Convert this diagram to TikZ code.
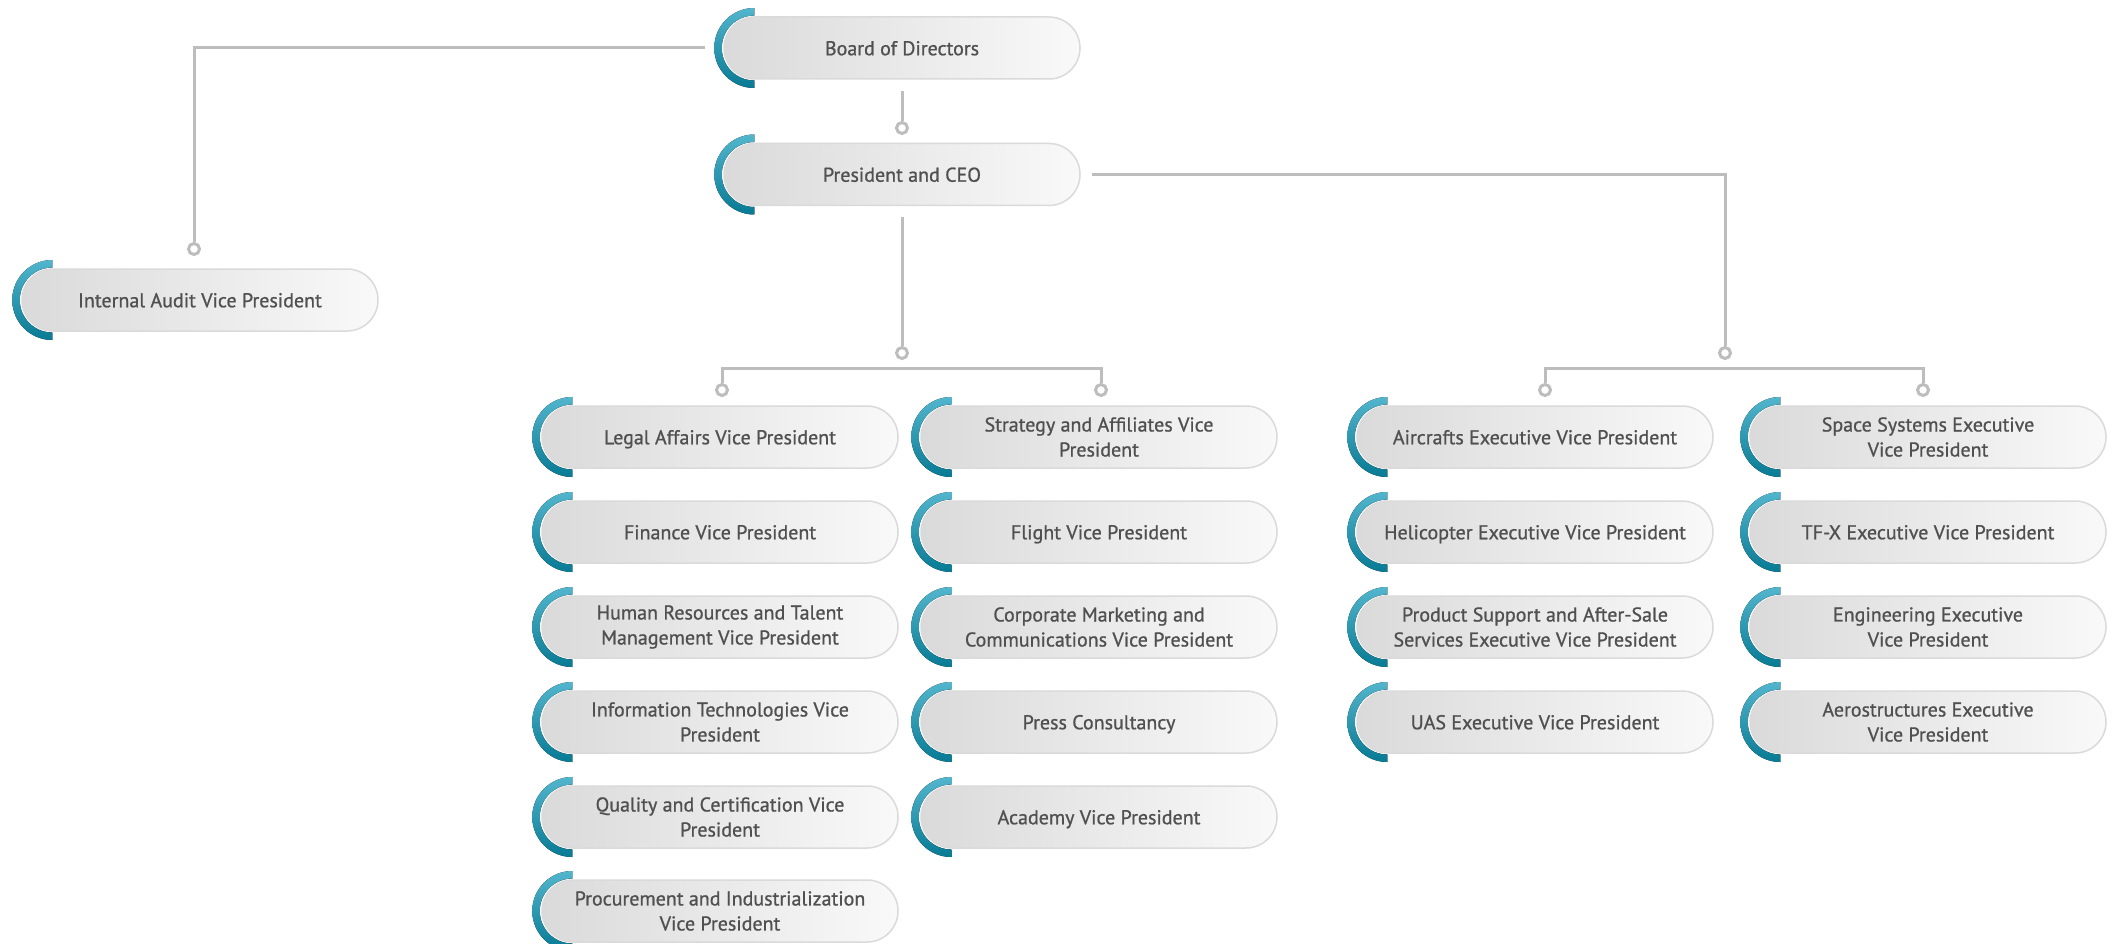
\documentclass[tikz,border=0pt]{standalone}
\usepackage{fontspec}
\setmainfont[FakeBold=0.9]{PT Sans}
\usetikzlibrary{shapes.misc,calc}
\definecolor{boxL}{HTML}{DADADA}
\definecolor{boxR}{HTML}{F9F9F9}
\definecolor{boxline}{HTML}{DADADA}
\definecolor{txt}{HTML}{505050}
\definecolor{wirec}{HTML}{BDBDBD}
\definecolor{tealT}{HTML}{52B6CD}
\definecolor{tealB}{HTML}{087A94}
\tikzset{
 post/.style={rounded rectangle,minimum width=356pt,minimum height=62pt,inner sep=0pt,
  left color=boxL,right color=boxR,draw=boxline,line width=1.5pt,
  preaction={draw=white,line width=4pt},text=txt,font=\fontsize{20}{25}\selectfont,align=center},
 lone/.style={text height=14.5pt,text depth=0pt},
 knot/.style={circle,draw=wirec,line width=3pt,fill=white,minimum size=11pt,inner sep=0pt},
 wire/.style={draw=wirec,line width=3pt}
}
\newcommand{\tealcap}[1]{\fill[top color=tealT,bottom color=tealB] ($(#1.west)+(31,40)$) arc (90:270:40) -- ++(0,7.5) arc (270:90:32.5) -- cycle;}
\begin{document}
\begin{tikzpicture}[x=1pt,y=1pt]
 \useasboundingbox (0,0) rectangle (2114,-944);
 \node[post,lone] (board) at (902,-48) {Board of Directors}; %取締役会
 \node[post,lone] (ceo) at (902,-174.5) {President and CEO}; %社長
 \node[post,lone] (audit) at (200,-300) {Internal Audit Vice President}; %内部監査
 % 左の二列
 \node[post,lone] (legal) at (720,-437) {Legal Affairs Vice President};
 \node[post,lone] (finance) at (720,-532) {Finance Vice President};
 \node[post] (hr) at (720,-627) {Human Resources and Talent\\Management Vice President};
 \node[post] (it) at (720,-722) {Information Technologies Vice\\President};
 \node[post] (quality) at (720,-817) {Quality and Certification Vice\\President};
 \node[post] (procure) at (720,-911) {Procurement and Industrialization\\Vice President};
 \node[post] (strategy) at (1099,-437) {Strategy and Affiliates Vice\\President};
 \node[post,lone] (flight) at (1099,-532) {Flight Vice President};
 \node[post] (marketing) at (1099,-627) {Corporate Marketing and\\Communications Vice President};
 \node[post,lone] (press) at (1099,-722) {Press Consultancy};
 \node[post,lone] (academy) at (1099,-817) {Academy Vice President};
 % 右の二列
 \node[post,lone] (aircraft) at (1535,-437) {Aircrafts Executive Vice President};
 \node[post,lone] (heli) at (1535,-532) {Helicopter Executive Vice President};
 \node[post] (support) at (1535,-627) {Product Support and After-Sale\\Services Executive Vice President};
 \node[post,lone] (uas) at (1535,-722) {UAS Executive Vice President};
 \node[post] (space) at (1928,-437) {Space Systems Executive\\Vice President};
 \node[post,lone] (tfx) at (1928,-532) {TF-X Executive Vice President};
 \node[post] (engineering) at (1928,-627) {Engineering Executive\\Vice President};
 \node[post] (aerostruct) at (1928,-722) {Aerostructures Executive\\Vice President};
 % 青緑の半円
 \foreach \n in {board,ceo,audit,legal,finance,hr,it,quality,procure,strategy,flight,marketing,press,academy,aircraft,heli,support,uas,space,tfx,engineering,aerostruct}
  \tealcap{\n};
 % 接続点
 \node[knot] (dA) at (194,-249) {};
 \node[knot] (dB) at (902,-128) {};
 \node[knot] (dC) at (902,-353) {};
 \node[knot] (dR) at (1725,-353) {};
 \node[knot] (dL1) at (722,-390) {};
 \node[knot] (dL2) at (1101,-390) {};
 \node[knot] (dR1) at (1545,-390) {};
 \node[knot] (dR2) at (1923,-390) {};
 % 線
 \draw[wire,shorten <=18pt] (board.west) -| (dA.north); %監査へ
 \draw[wire,shorten <=11pt] (board.south) -- (dB.north);
 \draw[wire,shorten <=11pt] (ceo.south) -- (dC.north);
 \draw[wire,shorten <=11pt] (ceo.east) -| (dR.north);
 \draw[wire] (dL1.north) -- ++(0,15) -| (dL2.north); %左の横線
 \draw[wire] (dR1.north) -- ++(0,15) -| (dR2.north); %右の横線
\end{tikzpicture}
\end{document}
